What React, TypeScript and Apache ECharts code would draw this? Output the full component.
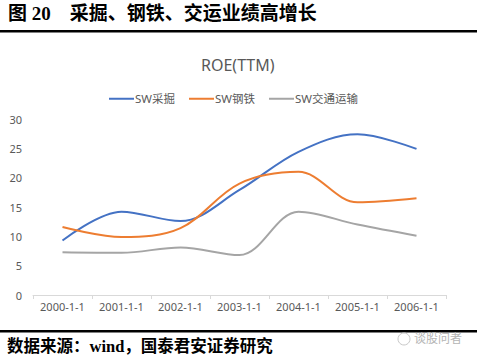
import React, { useEffect, useRef } from "react";
import * as echarts from "echarts";

const categories = ["2000-1-1", "2001-1-1", "2002-1-1", "2003-1-1", "2004-1-1", "2005-1-1", "2006-1-1"];
const seriesNames = ["SW采掘", "SW钢铁", "SW交通运输"];
const caijue = [9.3, 14.2, 12.6, 17.9, 24.4, 27.4, 24.9];
const gangtie = [11.6, 9.9, 11.4, 19.0, 21.0, 15.8, 16.5];
const jiaotong = [7.3, 7.2, 8.1, 6.8, 14.2, 12.0, 10.1];
const yTicks = { min: 0, max: 30, interval: 5 };
const colors = ["#4472C4", "#ED7D31", "#A5A5A5"];

const figTitle = "图 20    采掘、钢铁、交运业绩高增长";
const chartTitle = "ROE(TTM)";
const sourceText = "数据来源：wind，国泰君安证券研究";
const watermark = "谈股问者";

export default function App() {
  const ref = useRef<HTMLDivElement>(null);
  useEffect(() => {
    if (!ref.current) return;
    const chart = echarts.init(ref.current, undefined, { renderer: "svg" });
    const txt = "#595959";
    const font = "'Noto Sans', 'Noto Sans CJK SC', sans-serif";
    const serif = "'Liberation Serif', 'Noto Sans CJK SC', serif";
    chart.setOption({
      animation: false,
      backgroundColor: "#ffffff",
      title: {
        text: chartTitle,
        left: 196,
        top: 52,
        textStyle: { fontSize: 16, fontWeight: "normal", color: txt, fontFamily: font },
      },
      legend: {
        top: 88,
        left: 104,
        itemWidth: 25,
        itemHeight: 2,
        itemGap: 14,
        icon: "rect",
        textStyle: { fontSize: 11.5, color: txt, fontFamily: font, padding: [0, 0, 0, -4] },
        data: seriesNames,
      },
      grid: { left: 33, right: 31, top: 119, bottom: 64, containLabel: false },
      xAxis: {
        type: "category",
        data: categories,
        boundaryGap: true,
        axisLine: { lineStyle: { color: "#d9d9d9", width: 1 } },
        axisTick: { show: true, lineStyle: { color: "#d9d9d9" }, length: 4 },
        axisLabel: { color: txt, fontSize: 11, fontFamily: font, margin: 6 },
      },
      yAxis: {
        type: "value",
        min: yTicks.min,
        max: yTicks.max,
        interval: yTicks.interval,
        axisLine: { show: false },
        axisTick: { show: false },
        splitLine: { show: false },
        axisLabel: { color: txt, fontSize: 11, fontFamily: font, margin: 11 },
      },
      series: [caijue, gangtie, jiaotong].map((d, i) => ({
        name: seriesNames[i],
        type: "line",
        data: d,
        smooth: 0.35,
        symbol: "none",
        lineStyle: { width: 2, color: colors[i] },
        itemStyle: { color: colors[i] },
      })),
      graphic: [
        {
          type: "text",
          left: 8,
          top: 4,
          style: { text: figTitle, fontSize: 19, fontWeight: "bold", fill: "#000", fontFamily: serif },
        },
        { type: "rect", shape: { x: 0, y: 30, width: 477, height: 2.5 }, style: { fill: "#000" } },
        { type: "rect", shape: { x: 0, y: 330, width: 477, height: 2.5 }, style: { fill: "#000" } },
        {
          type: "text",
          left: 7,
          top: 338,
          style: { text: sourceText, fontSize: 16.5, fontWeight: "bold", fill: "#000", fontFamily: serif },
        },
        {
          type: "circle",
          shape: { cx: 404, cy: 339, r: 6 },
          style: { fill: "none", stroke: "#c8c8c8", lineWidth: 1 },
        },
        {
          type: "text",
          left: 414,
          top: 332,
          style: { text: watermark, fontSize: 12, fill: "#b5b5b5", fontFamily: font },
        },
      ],
    });
    return () => chart.dispose();
  }, []);
  return (
    <div
      ref={ref}
      style={{ position: "fixed", left: 0, top: 0, width: 477, height: 359, background: "#fff" }}
    />
  );
}
